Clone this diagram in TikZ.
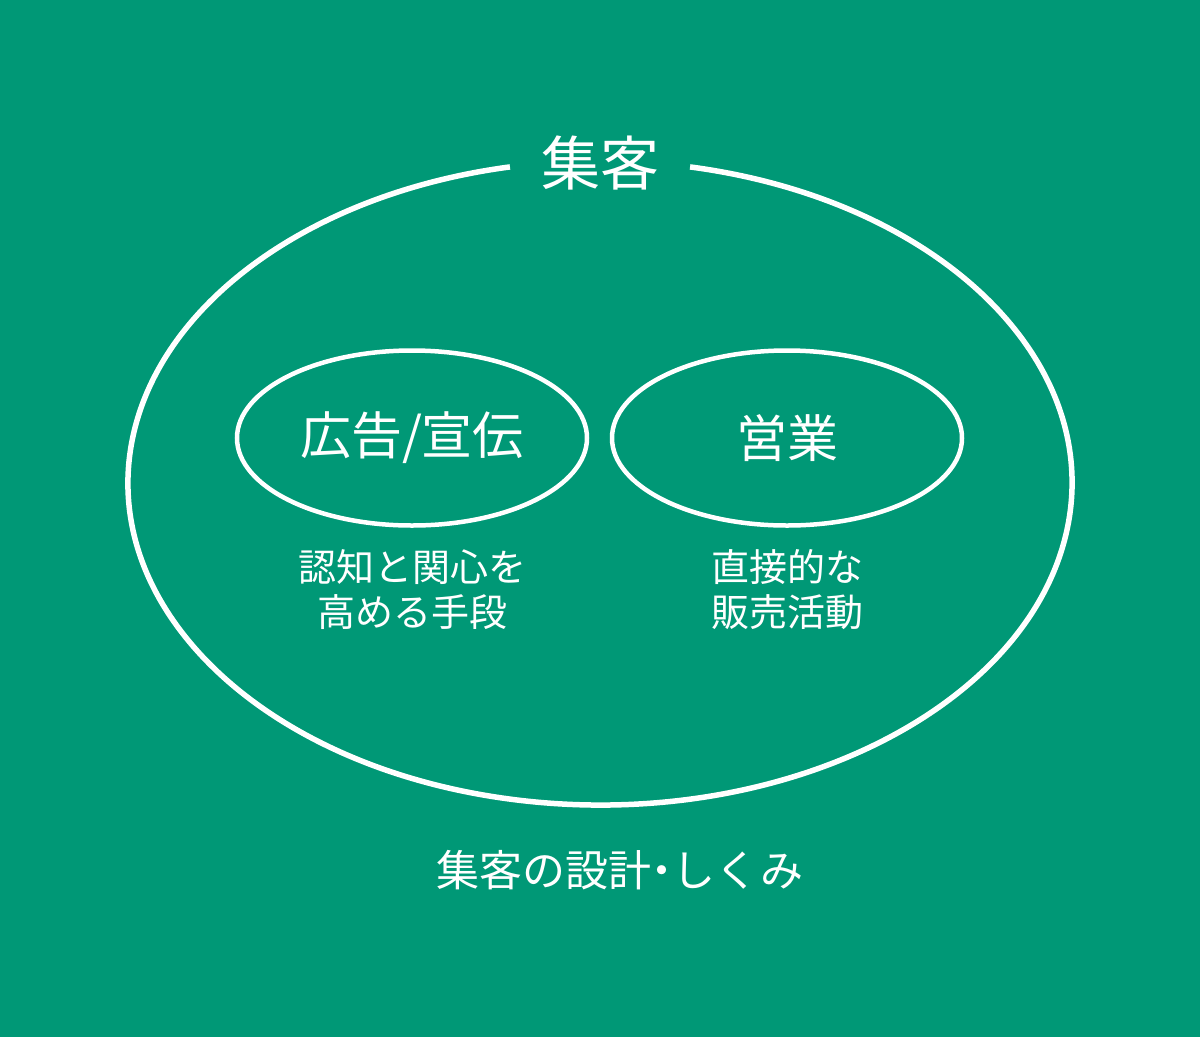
\documentclass[tikz,border=0pt]{standalone}
\usepackage{fontspec}
\setmainfont{Noto Sans CJK JP}
\usetikzlibrary{shapes.geometric}

\definecolor{bggreen}{RGB}{0,152,118}

\tikzstyle{ring} = [draw=white,line width=5.5pt]
\tikzstyle{bubble} = [ellipse,draw=white,line width=4.5pt,minimum width=350pt,minimum height=175pt,inner sep=0pt,text=white,font=\fontsize{51}{51}\selectfont]
\tikzstyle{note} = [align=center,text=white,font=\fontsize{38}{45}\selectfont]
\tikzstyle{title} = [text=white,font=\fontsize{59}{59}\selectfont]

\begin{document}
\begin{tikzpicture}[x=1pt,y=-1pt]
    \useasboundingbox (0,0) rectangle (1200,1037);
    \fill[bggreen] (0,0) rectangle (1200,1037);

    % outer ring with gap for the title
    \coordinate (centre) at (600,483);
    \draw[ring] (centre) ++(-79:472 and 322) arc[start angle=-79,end angle=259,x radius=472,y radius=322];
    \node[title] (shuukyaku) at (600,163) {集客};

    \foreach \nodename/\label/\x/\notetext in {
      ad/{広告/宣伝}/412/{認知と関心を\\高める手段},
      sales/{営業}/787/{直接的な\\販売活動}}
    {
      \node[bubble] (\nodename) at (\x,438) {\label};
      \node[note] (\nodename note) at (\x,590) {\notetext};
    }

    \node[note,font=\fontsize{43}{43}\selectfont] (design) at (620,870) {集客の設計{\addfontfeatures{RawFeature=+palt}・}しくみ};
\end{tikzpicture}
\end{document}
